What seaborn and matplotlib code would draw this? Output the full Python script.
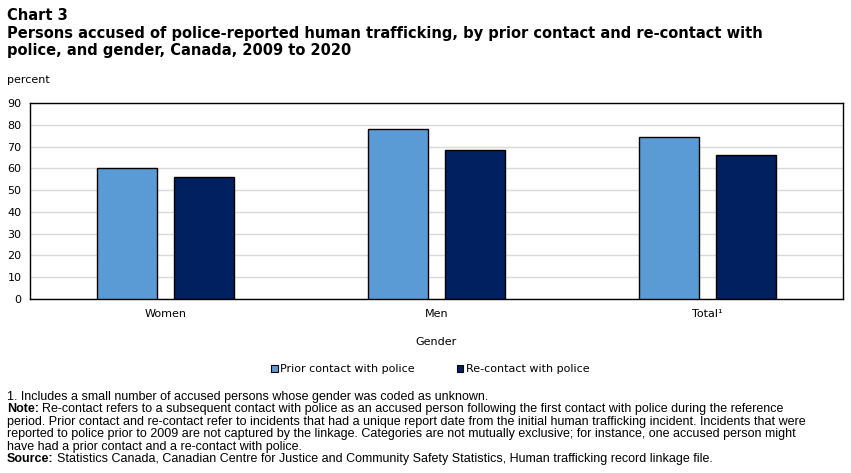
import matplotlib
matplotlib.use("Agg")
import matplotlib.pyplot as plt
import seaborn as sns
import pandas as pd
from matplotlib.patches import Patch

# data
genders = ["Women", "Men", "Total¹"]
series = ["Prior contact with police", "Re-contact with police"]
prior_contact = [60.2, 78.2, 74.3]
re_contact = [56.0, 68.5, 66.0]
colors = ["#5B9BD5", "#002060"]

df = pd.DataFrame({
    "Gender": genders * 2,
    "Series": [series[0]] * 3 + [series[1]] * 3,
    "percent": prior_contact + re_contact,
})

sns.set_style("white")
plt.rcParams["font.family"] = ["DejaVu Sans"]
plt.rcParams["text.color"] = "black"
plt.rcParams["axes.labelcolor"] = "black"

W, H = 851, 473
fig = plt.figure(figsize=(W / 100, H / 100), dpi=100)
ax = fig.add_axes([30 / W, (H - 299) / H, 813 / W, 196 / H])

sns.barplot(data=df, x="Gender", y="percent", hue="Series", palette=colors,
            saturation=1, width=0.568, gap=0.21, edgecolor="black", linewidth=1,
            legend=False, ax=ax, zorder=3)

ax.set_ylim(0, 90)
ax.set_yticks(range(0, 91, 10))
ax.set_xlim(-0.5, 2.5)
ax.yaxis.grid(True, color="#d9d9d9", linewidth=1, zorder=0)
ax.set_axisbelow(True)
for s in ax.spines.values():
    s.set_color("black")
    s.set_linewidth(1)
ax.tick_params(axis="both", length=0, labelsize=8, colors="black", pad=6)
ax.tick_params(axis="x", pad=7)
ax.set_xlabel("Gender", fontsize=8, labelpad=13)
ax.set_ylabel("")

fig.text(7 / W, 1 - 80 / H, "percent", fontsize=8, va="center")
fig.text(7 / W, 1 - 15 / H, "Chart 3", fontsize=10.5, fontweight="bold", va="center")
fig.text(7 / W, 1 - 42 / H,
         "Persons accused of police-reported human trafficking, by prior contact and re-contact with\n"
         "police, and gender, Canada, 2009 to 2020",
         fontsize=10.5, fontweight="bold", va="center", linespacing=1.15)

handles = [Patch(facecolor=c, edgecolor="black", linewidth=0.8) for c in colors]
fig.legend(handles, series, loc="center", bbox_to_anchor=(430 / W, 1 - 369 / H),
           ncol=2, frameon=False, fontsize=8, handlelength=0.6, handleheight=0.6,
           handletextpad=0.2, columnspacing=3.8)

# footnotes
foot = dict(fontsize=9.0, va="top", family=["Liberation Sans", "DejaVu Sans"])
x0 = 7 / W
y0 = 1 - 391 / H
lh = 12.4 / H
lines = [
    (None, "1. Includes a small number of accused persons whose gender was coded as unknown."),
    ("Note:", "Re-contact refers to a subsequent contact with police as an accused person following the first contact with police during the reference"),
    (None, "period. Prior contact and re-contact refer to incidents that had a unique report date from the initial human trafficking incident. Incidents that were"),
    (None, "reported to police prior to 2009 are not captured by the linkage. Categories are not mutually exclusive; for instance, one accused person might"),
    (None, "have had a prior contact and a re-contact with police."),
    ("Source:", "Statistics Canada, Canadian Centre for Justice and Community Safety Statistics, Human trafficking record linkage file."),
]
renderer = fig.canvas.get_renderer()
for i, (lead, txt) in enumerate(lines):
    y = y0 - i * lh
    x = x0
    if lead:
        t = fig.text(x, y, lead, fontweight="bold", **foot)
        bb = t.get_window_extent(renderer)
        x = (bb.x1 + 3) / W
    fig.text(x, y, txt, **foot)

fig.savefig("out.png", dpi=100)
